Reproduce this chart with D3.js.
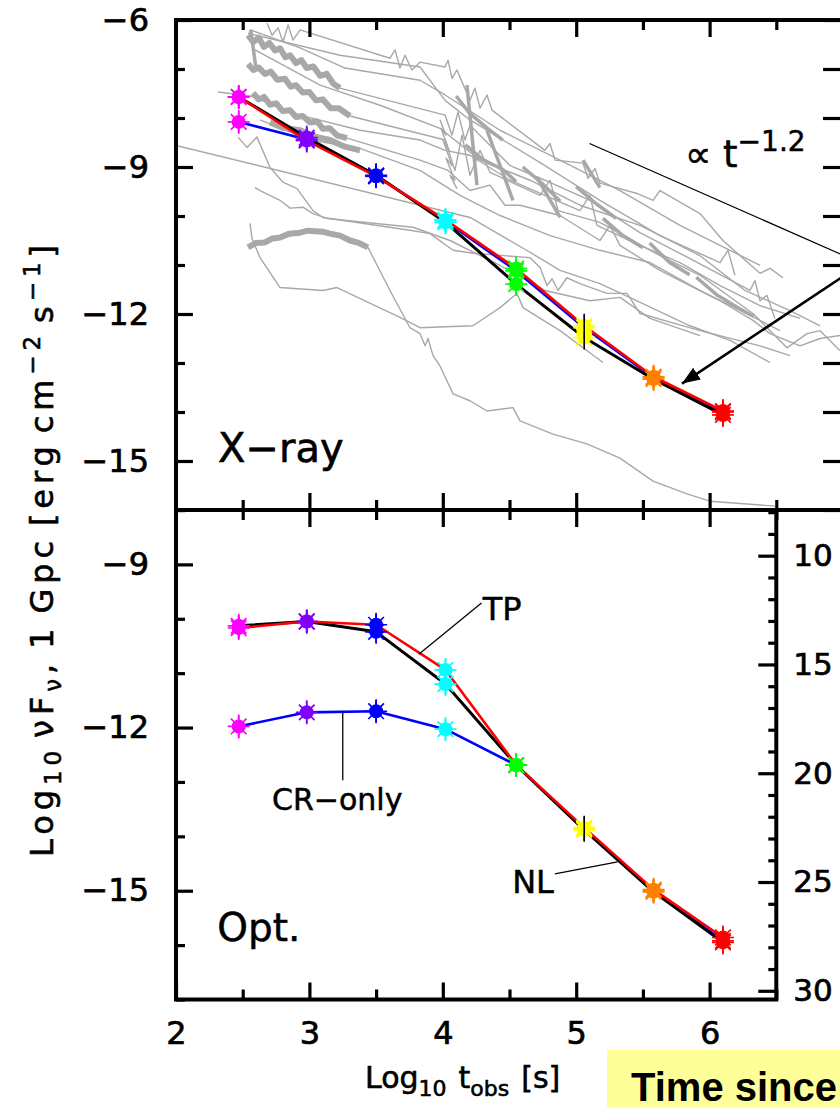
<!DOCTYPE html>
<html><head><meta charset="utf-8">
<script src="https://cdn.jsdelivr.net/npm/d3@7"></script>
<style>body{margin:0;background:#fff}svg{display:block}</style>
</head><body>
<svg id="c" width="840" height="1108"></svg>
<script>
// ---------------- data ----------------
const logT = [2.47, 2.98, 3.50, 4.02, 4.55, 5.06, 5.58, 6.10];
const markerColors = ["#ff00ff","#8000ff","#0000ff","#00ffff","#00ff00","#ffff00","#ff8000","#ff0000"];

// X-ray panel (Log10 nuFnu)
const xrayCR = [-8.08, -8.44, -9.18, -10.10, -11.12, -12.28, -13.30, -14.00];
const xrayNL = [-7.57, -8.40, -9.17, -10.13, -11.39, -12.48, -13.33, -14.06];
const xrayTP = [-7.57, -8.46, -9.19, -10.08, -11.07, -12.24, -13.28, -13.98];

// Optical panel
const optCR = [-11.98, -11.72, -11.70, -12.03, -12.69, -13.86, -15.00, -15.92];
const optNL = [-10.13, -10.05, -10.24, -11.20, -12.69, -13.88, -15.02, -15.95];
const optTP = [-10.17, -10.05, -10.11, -10.94, -12.69, -13.84, -14.98, -15.86];

// observed X-ray afterglows (grey)  [log t, log flux]
const grayLines = [
 [[2.682,-6.06],[2.72,-6.31],[2.765,-6.16],[2.802,-6.45],[2.84,-6.10],[2.877,-6.41],[2.93,-6.20],[3.604,-6.78],[3.642,-6.61],[3.679,-6.98],[3.717,-6.72],[3.769,-7.02],[3.829,-6.86],[4.017,-6.96],[4.039,-6.82],[4.069,-7.19],[4.106,-7.02],[4.204,-7.64],[4.241,-7.39],[4.279,-7.80],[4.331,-7.53],[4.369,-7.84],[4.766,-8.66],[4.804,-8.52],[4.841,-8.86],[5.051,-8.92],[5.088,-9.23],[5.141,-9.03],[5.178,-9.33],[5.456,-9.54],[5.576,-9.68],[5.628,-9.48],[5.928,-9.95],[6.10,-10.50],[6.378,-11.17],[6.453,-11.07],[6.55,-11.26]],
 [[2.54,-6.27],[3.229,-6.72],[3.829,-6.96],[4.017,-7.64],[4.204,-8.04],[4.766,-8.97],[5.178,-9.68],[5.628,-10.40],[6.078,-10.95],[6.138,-10.70],[6.19,-11.21]],
 [[3.229,-7.39],[4.017,-7.94],[4.069,-8.35],[4.114,-7.88],[4.166,-8.45],[4.204,-8.15],[4.504,-8.97],[4.766,-9.27],[5.103,-9.68],[5.478,-10.34],[5.853,-10.87],[6.303,-11.52],[6.34,-11.32],[6.378,-11.73],[6.43,-11.62],[6.49,-12.09]],
 [[3.304,-7.96],[4.017,-8.45],[4.091,-9.07],[4.144,-8.35],[4.204,-9.17],[4.279,-8.66],[4.354,-9.11],[4.729,-9.58],[4.804,-9.27],[4.864,-9.89],[5.178,-10.13],[5.628,-10.81],[5.928,-11.21],[6.325,-11.99],[6.453,-12.34],[6.58,-12.69],[6.73,-12.40],[6.828,-12.34],[6.978,-12.75]],
 [[3.282,-8.41],[3.829,-8.86],[4.039,-9.07],[4.204,-9.48],[4.354,-9.37],[4.466,-9.78],[4.579,-9.78],[4.879,-9.99],[5.178,-10.50],[5.253,-10.19],[5.328,-10.60],[5.628,-11.11],[6.078,-11.73],[6.325,-12.13],[6.453,-12.40],[6.678,-12.65],[6.828,-12.50],[6.978,-12.44]],
 [[2.315,-7.47],[2.555,-7.55],[2.93,-7.94],[3.379,-8.25],[3.829,-8.45],[4.017,-8.66],[4.204,-8.76],[4.504,-9.27],[4.766,-9.58],[5.028,-9.89],[5.103,-9.58],[5.156,-10.19],[5.478,-10.60],[5.778,-10.95],[6.078,-11.42],[6.378,-11.83],[6.678,-12.09]],
 [[2.555,-6.20],[2.93,-6.57],[3.267,-6.98],[3.829,-7.23],[4.017,-7.53],[4.429,-8.25],[4.879,-8.86],[5.328,-9.48],[5.778,-10.19],[6.153,-10.70],[6.378,-11.01]],
 [[2.592,-6.61],[3.08,-7.33],[3.529,-7.74],[3.979,-8.21],[4.279,-8.86],[4.654,-9.27],[5.028,-9.78],[5.478,-10.19],[5.928,-10.81],[6.265,-11.52],[6.603,-11.93],[6.828,-12.24]],
 [[2.63,-8.04],[3.005,-8.45],[3.379,-8.62],[3.829,-9.07],[4.129,-9.58],[4.429,-9.99],[4.804,-10.40],[5.178,-10.70],[5.553,-10.95],[5.928,-11.52],[6.303,-12.03],[6.528,-12.34]],
 [[2.0,-8.56],[4.204,-10.03],[4.654,-10.74],[4.879,-11.11],[5.178,-11.38],[5.456,-11.73],[5.853,-12.24],[6.153,-12.54],[6.453,-12.99]],
 [[2.465,-8.39],[2.532,-8.60],[2.607,-8.39],[2.705,-9.01],[2.802,-9.31],[2.907,-9.44],[3.027,-9.89],[3.102,-10.03],[3.754,-10.29],[3.904,-10.36],[4.077,-10.70],[4.226,-10.76],[4.654,-10.85],[4.729,-11.05],[4.781,-11.42],[4.819,-11.28],[4.864,-11.52],[4.931,-11.26],[5.028,-11.38],[5.231,-11.58],[5.381,-11.58],[5.478,-11.99],[5.928,-12.34],[6.378,-12.65],[6.603,-12.85]],
 [[2.592,-9.42],[2.63,-9.48],[2.78,-9.68],[2.855,-9.84],[2.952,-9.82],[3.027,-9.95],[3.132,-10.05],[3.777,-10.23],[4.054,-10.50],[4.429,-11.01],[4.766,-11.52],[5.103,-11.73],[5.328,-11.66],[5.553,-12.09],[5.928,-12.44]],
 [[2.555,-10.15],[2.57,-10.46],[2.63,-10.85],[2.78,-11.46],[3.102,-11.52],[3.207,-11.46],[3.679,-12.07],[3.829,-12.28],[4.226,-12.24],[4.429,-11.87],[4.556,-11.58],[4.601,-11.87],[4.879,-12.34],[5.201,-12.99]],
 [[3.439,-10.64],[3.604,-11.52],[3.754,-12.28],[3.829,-12.40],[3.867,-12.65],[3.889,-12.50],[3.927,-12.85],[3.979,-13.06],[4.077,-13.63],[4.204,-13.77],[4.331,-13.98],[4.526,-13.91],[4.579,-14.18],[4.826,-14.45],[5.081,-14.65],[5.328,-14.94],[5.576,-15.41],[5.831,-15.67],[6.003,-15.82],[6.49,-15.92]],
 [[3.979,-8.04],[4.024,-8.35],[3.987,-8.21],[4.047,-8.66],[4.001,-8.45],[4.069,-8.97],[4.024,-8.82],[4.091,-9.27],[4.054,-9.17],[4.106,-9.44]]
];
// densely sampled (noisy) stretches of the grey light curves
const grayBands = [
 [[2.54,-6.31],[2.58,-6.45],[2.62,-6.36],[2.66,-6.55],[2.70,-6.47],[2.742,-6.62],[2.78,-6.58],[2.82,-6.76],[2.855,-6.72],[2.90,-6.88],[2.94,-6.82],[2.98,-6.98],[3.03,-6.95],[3.08,-7.14],[3.13,-7.10],[3.18,-7.30],[3.229,-7.39]],
 [[2.54,-6.90],[2.58,-7.02],[2.62,-6.97],[2.667,-7.10],[2.71,-7.05],[2.76,-7.22],[2.817,-7.20],[2.86,-7.36],[2.90,-7.33],[2.95,-7.48],[3.00,-7.47],[3.05,-7.64],[3.10,-7.62],[3.16,-7.80],[3.22,-7.80],[3.304,-7.96]],
 [[2.577,-7.49],[2.62,-7.62],[2.66,-7.57],[2.705,-7.73],[2.75,-7.70],[2.80,-7.86],[2.855,-7.84],[2.90,-7.98],[2.95,-7.96],[3.005,-8.09],[3.06,-8.07],[3.10,-8.22],[3.154,-8.21],[3.21,-8.36],[3.282,-8.41]],
 [[2.705,-8.09],[2.80,-8.20],[2.93,-8.25],[3.04,-8.38],[3.154,-8.45],[3.26,-8.58],[3.379,-8.66]],
 [[2.54,-10.64],[2.60,-10.55],[2.667,-10.54],[2.72,-10.46],[2.78,-10.44],[2.85,-10.36],[2.93,-10.34],[2.99,-10.30],[3.042,-10.31],[3.10,-10.32],[3.154,-10.36],[3.23,-10.40],[3.304,-10.50],[3.37,-10.55],[3.439,-10.64]]
];
const grayThin = [
 [[4.10,-7.55],[4.20,-7.90],[4.33,-8.20],[4.45,-8.45]],
 [[4.17,-8.55],[4.30,-8.85],[4.45,-9.05],[4.55,-9.30]],
 [[4.60,-9.00],[4.75,-9.35],[4.88,-9.70]],
 [[5.00,-9.40],[5.15,-9.75],[5.30,-10.05]],
 [[5.20,-10.05],[5.35,-10.40],[5.50,-10.65]],
 [[5.55,-10.55],[5.70,-10.95],[5.85,-11.20]],
 [[5.90,-11.25],[6.05,-11.60],[6.20,-11.85],[6.33,-12.05]],
 [[2.56,-6.20],[2.60,-7.00]],
 [[4.181,-7.33],[4.256,-9.37]], [[4.331,-8.25],[4.526,-9.68]],
 [[4.706,-9.21],[4.879,-10.03]], [[5.051,-8.86],[5.178,-9.42]]
];
const powerLaw = [[5.10, -8.52], [7.10, -10.92]];      // slope -1.2 guide
const arrowPts = [[7.13, -11.00], [5.793, -13.42]];

// axes ticks
const xMajor = [2, 3, 4, 5, 6];
const xMinor = [2.5, 3.5, 4.5, 5.5, 6.5];
const yTopMajor = [-15, -12, -9, -6];
const yBotMajor = [-15, -12, -9];
const magMajor = [10, 15, 20, 25, 30];
const magOffset = -12.1;   // m = -2.5 * log(nuFnu) + offset

// annotation anchors (data units)
const tpPointer = [[4.29, -9.71], [3.82, -10.65]];
const crPointer = [[3.25, -11.70], [3.25, -12.97]];
const nlPointer = [[4.84, -14.69], [5.31, -14.47]];

// ---------------- drawing ----------------
const svg = d3.select("#c");
const FONT = "DejaVu Sans";
const x = d3.scaleLinear().domain([2, 7]).range([176, 843]);
const yTop = d3.scaleLinear().domain([-16, -6]).range([510, 20]);
const yBot = d3.scaleLinear().domain([-17, -8]).range([999.5, 510]);
const yMag = d3.scaleLinear().domain(yBot.domain().map(L => -2.5 * L + magOffset)).range(yBot.range());
const xEndBot = 6.5;
const GREY = "#a8a8a8";

const defs = svg.append("defs");
defs.append("clipPath").attr("id","clipTop").append("rect")
  .attr("x", x(2)).attr("y", yTop(-6)).attr("width", x(7)-x(2)).attr("height", yTop(-16)-yTop(-6));
defs.append("clipPath").attr("id","clipBot").append("rect")
  .attr("x", x(2)).attr("y", yBot(-8)).attr("width", x(xEndBot)-x(2)).attr("height", yBot(-17)-yBot(-8));
defs.append("marker").attr("id","ah").attr("markerUnits","userSpaceOnUse")
  .attr("markerWidth",20).attr("markerHeight",16).attr("refX",18).attr("refY",7).attr("orient","auto")
  .append("path").attr("d","M0,0 L18,7 L0,14 Z").attr("fill","#000");

// yellow box
svg.append("rect").attr("x",607).attr("y",1050).attr("width",240).attr("height",60).attr("fill","#ffff99");
svg.append("text").attr("x",631).attr("y",1101).attr("font-family","Liberation Sans, Arial")
  .attr("font-weight","bold").attr("font-size",40).text("Time since");

// ---------- top panel ----------
const gTop = svg.append("g").attr("clip-path","url(#clipTop)");
const lnT = d3.line().x(d => x(d[0])).y(d => yTop(d[1]));
gTop.selectAll("path.gb").data(grayBands).join("path").attr("class","gb")
  .attr("d", lnT).attr("fill","none").attr("stroke",GREY).attr("stroke-width",6).attr("stroke-linejoin","round");
gTop.selectAll("path.gt").data(grayThin).join("path").attr("class","gt")
  .attr("d", lnT).attr("fill","none").attr("stroke",GREY).attr("stroke-width",3.5).attr("stroke-linejoin","round");
gTop.selectAll("path.gl").data(grayLines).join("path").attr("class","gl")
  .attr("d", lnT).attr("fill","none").attr("stroke",GREY).attr("stroke-width",1.4).attr("stroke-linejoin","round");
gTop.append("path").attr("d", lnT(powerLaw)).attr("stroke","#000").attr("stroke-width",1.3).attr("fill","none");

function series(g, yS, vals, color, w) {
  g.append("path").attr("d", d3.line().x((d,i)=>x(logT[i])).y(d=>yS(d))(vals))
    .attr("fill","none").attr("stroke",color).attr("stroke-width",w).attr("stroke-linejoin","round");
}
function markers(g, yS, vals) {
  const m = g.append("g").selectAll("g").data(vals).join("g")
    .attr("transform",(d,i)=>`translate(${x(logT[i])},${yS(d)})`);
  m.each(function(d,i){
    const s = d3.select(this), c = markerColors[i];
    for (let k=0;k<8;k++){
      const a = k*Math.PI/4;
      s.append("line").attr("x1",0).attr("y1",0).attr("x2",11*Math.cos(a)).attr("y2",11*Math.sin(a))
        .attr("stroke",c).attr("stroke-width",1.7);
    }
    s.append("circle").attr("r",7).attr("fill",c);
    s.append("line").attr("x1",0).attr("x2",0).attr("y1",-12).attr("y2",12)
      .attr("stroke", i===5 ? "#000" : c).attr("stroke-width",1.6);
  });
}
const gTopS = svg.append("g");
series(gTopS, yTop, xrayCR, "#0000ff", 2.6);
series(gTopS, yTop, xrayNL, "#000000", 3);
series(gTopS, yTop, xrayTP, "#ff0000", 2.6);
markers(gTopS, yTop, xrayCR);
markers(gTopS, yTop, xrayNL);
markers(gTopS, yTop, xrayTP);

svg.append("path").attr("d", lnT(arrowPts)).attr("stroke","#000").attr("stroke-width",2.6)
  .attr("fill","none").attr("marker-end","url(#ah)");

const t12 = svg.append("text").attr("x", x(5.815)).attr("y", yTop(-9.0))
  .attr("font-family", FONT).attr("font-size", 37).attr("stroke","#000").attr("stroke-width",0.5);
t12.append("tspan").text("\u221D t");
t12.append("tspan").attr("font-size",28).attr("dy",-16).text("\u22121.2");
svg.append("text").attr("x", x(2.315)).attr("y", yTop(-15.02)).attr("font-family",FONT)
  .attr("font-size",40).attr("stroke","#000").attr("stroke-width",0.6).text("X\u2212ray");

// ---------- bottom panel ----------
const gBot = svg.append("g").attr("clip-path","url(#clipBot)");
series(gBot, yBot, optCR, "#0000ff", 2.6);
series(gBot, yBot, optNL, "#000000", 3);
series(gBot, yBot, optTP, "#ff0000", 2.6);
markers(gBot, yBot, optCR);
markers(gBot, yBot, optNL);
markers(gBot, yBot, optTP);

const lnB = d3.line().x(d => x(d[0])).y(d => yBot(d[1]));
[tpPointer, crPointer, nlPointer].forEach(p =>
  svg.append("path").attr("d", lnB(p)).attr("stroke","#000").attr("stroke-width",1.3).attr("fill","none"));
function label(xv, yv, txt, fs) {
  svg.append("text").attr("x", x(xv)).attr("y", yBot(yv)).attr("font-family",FONT).attr("font-size",fs)
    .attr("stroke","#000").attr("stroke-width",0.5).text(txt);
}
label(4.30, -10.02, "TP", 32);
label(2.72, -13.51, "CR\u2212only", 30);
label(4.52, -15.04, "NL", 32);
label(2.31, -15.92, "Opt.", 39);

// ---------- axes ----------
function axis(gen, scale, tr, vals, size, pad, fmt, fs) {
  const a = gen(scale).tickValues(vals).tickSize(size).tickPadding(pad).tickFormat(fmt || (() => ""));
  const g = svg.append("g").attr("transform", tr).call(a);
  g.select(".domain").remove();
  g.selectAll(".tick line").attr("stroke","#000").attr("stroke-width",3.2);
  g.selectAll(".tick text").attr("font-family",FONT).attr("font-size",fs||32).attr("fill","#000")
    .attr("stroke","#000").attr("stroke-width",0.7);
  return g;
}
const fmtInt = d3.format("d");
const notIn = (arr) => v => !arr.includes(v);
const topAllY = d3.range(-16, -5);
const botAllY = d3.range(-17, -7);
// top panel
axis(d3.axisLeft, yTop, `translate(${x(2)},0)`, yTopMajor, -17, 27, fmtInt, 32);
axis(d3.axisLeft, yTop, `translate(${x(2)},0)`, topAllY.filter(notIn(yTopMajor)), -9, 0);
axis(d3.axisRight, yTop, `translate(${x(7)},0)`, topAllY, -20, 0);
axis(d3.axisTop, x, `translate(0,${yTop(-6)})`, [3,4,5,6], -17, 0);
axis(d3.axisTop, x, `translate(0,${yTop(-6)})`, xMinor, -10, 0);
axis(d3.axisBottom, x, `translate(0,${yTop(-16)})`, [3,4,5,6], -17, 0);
axis(d3.axisBottom, x, `translate(0,${yTop(-16)})`, xMinor, -10, 0);
// bottom panel
axis(d3.axisLeft, yBot, `translate(${x(2)},0)`, yBotMajor, -17, 27, fmtInt, 32);
axis(d3.axisLeft, yBot, `translate(${x(2)},0)`, botAllY.filter(notIn(yBotMajor)), -9, 0);
axis(d3.axisTop, x, `translate(0,${yBot(-8)})`, [3,4,5,6], -17, 0);
axis(d3.axisTop, x, `translate(0,${yBot(-8)})`, xMinor, -10, 0);
axis(d3.axisBottom, x, `translate(0,${yBot(-17)})`, xMajor, -17, 22, fmtInt, 32);
axis(d3.axisBottom, x, `translate(0,${yBot(-17)})`, xMinor, -10, 0);
// magnitude axis on the right of the optical panel
const magAll = d3.range(8, 31);
axis(d3.axisRight, yMag, `translate(${x(xEndBot)},0)`, magMajor, -18, 17, fmtInt, 31);
axis(d3.axisRight, yMag, `translate(${x(xEndBot)},0)`, magAll.filter(notIn(magMajor)), -8, 0);

// frames
svg.append("rect").attr("x",x(2)).attr("y",yTop(-6)).attr("width",x(7)-x(2)).attr("height",yTop(-16)-yTop(-6))
  .attr("fill","none").attr("stroke","#000").attr("stroke-width",4);
svg.append("rect").attr("x",x(2)).attr("y",yBot(-8)).attr("width",x(xEndBot)-x(2)).attr("height",yBot(-17)-yBot(-8))
  .attr("fill","none").attr("stroke","#000").attr("stroke-width",4);

// axis titles
const xt = svg.append("text").attr("x",365).attr("y",1088).attr("font-family",FONT).attr("font-size",30)
  .attr("stroke","#000").attr("stroke-width",0.6);
xt.append("tspan").text("Log");
xt.append("tspan").attr("font-size",22).attr("dy",8).text("10");
xt.append("tspan").attr("dy",-8).attr("dx",12).text("t");
xt.append("tspan").attr("font-size",22).attr("dy",8).text("obs");
xt.append("tspan").attr("dy",-8).attr("dx",12).text("[s]");

const yt = svg.append("text").attr("transform","translate(53,857) rotate(-90)")
  .attr("font-family",FONT).attr("font-size",32).attr("stroke","#000").attr("stroke-width",0.6)
  .attr("textLength",612).attr("lengthAdjust","spacing");
yt.append("tspan").text("Log");
yt.append("tspan").attr("font-size",23).attr("dy",8).text("10");
yt.append("tspan").attr("dy",-8).attr("dx",8).text("\u03BDF");
yt.append("tspan").attr("font-size",23).attr("dy",8).text("\u03BD");
yt.append("tspan").attr("dy",-8).text(",");
yt.append("tspan").attr("dx",10).text("1");
yt.append("tspan").attr("dx",10).text("Gpc");
yt.append("tspan").attr("dx",10).text("[erg");
yt.append("tspan").attr("dx",8).text("cm");
yt.append("tspan").attr("font-size",23).attr("dy",-13).text("\u22122");
yt.append("tspan").attr("dy",13).attr("dx",8).text("s");
yt.append("tspan").attr("font-size",23).attr("dy",-13).text("\u22121");
yt.append("tspan").attr("dy",13).text("]");
</script>
</body></html>
